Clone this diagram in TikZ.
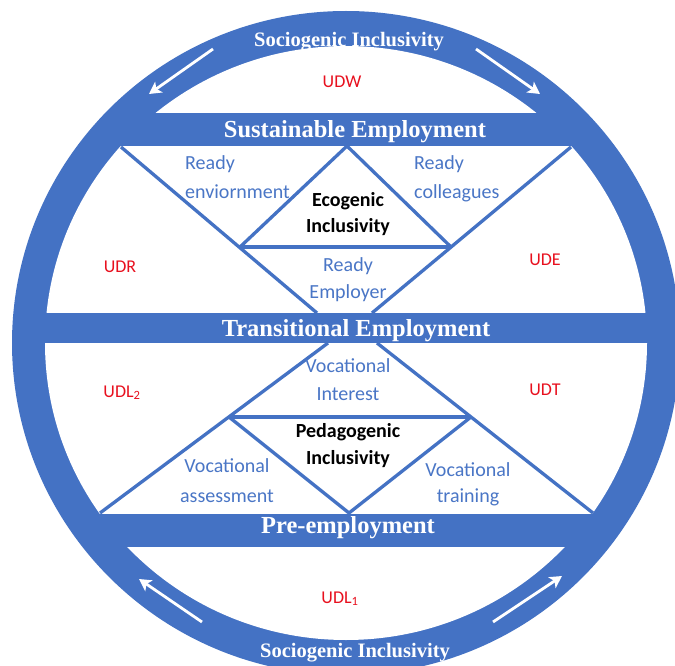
\documentclass[tikz,border=0pt]{standalone}
\usepackage{fontspec}
\setmainfont{Liberation Serif}
\newfontfamily\calib{Carlito}
\usetikzlibrary{arrows.meta}
\definecolor{ringblue}{HTML}{4472C4}
\definecolor{lblblue}{HTML}{4A76C6}
\definecolor{udred}{HTML}{E8101E}
\begin{document}
\begin{tikzpicture}[x=1pt,y=-1pt,
  bartext/.style={font=\fontsize{24.5}{26}\selectfont\bfseries, text=white, anchor=base, inner sep=0},
  ringtext/.style={font=\fontsize{20.5}{22}\selectfont\bfseries, text=white, anchor=base, inner sep=0},
  lbl/.style={font=\calib\fontsize{20}{24}\selectfont, text=lblblue, inner sep=0, anchor=base},
  lblL/.style={lbl, anchor=base west},
  core/.style={font=\calib\fontsize{20}{24}\selectfont\bfseries, text=black, inner sep=0, anchor=base},
  ud/.style={font=\calib\fontsize{18}{20}\selectfont, text=udred, inner sep=0, anchor=base},
  tri/.style={draw=ringblue, line width=3.3pt, line join=round},
  tribase/.style={draw=ringblue, line width=4.5pt},
  warrow/.style={draw=white, line width=2.8pt, -{Stealth[length=12pt,width=13pt,inset=3pt]}}
]
\clip (0,0) rectangle (675,666);
\useasboundingbox (0,0) rectangle (675,666);
\fill[white] (0,0) rectangle (675,666);
% ring
\fill[ringblue] (346,343) ellipse [x radius=334pt, y radius=332pt];
\fill[white] (346,343) ellipse [x radius=301pt, y radius=297pt];
% bars
\begin{scope}
  \clip (346,343) ellipse [x radius=302pt, y radius=298pt];
  \fill[ringblue] (0,113) rectangle (675,146);
  \fill[ringblue] (0,313) rectangle (675,343);
  \fill[ringblue] (0,514) rectangle (675,547);
\end{scope}
% upper V and ecogenic triangle
\coordinate (uvL) at (121,147);
\coordinate (uvLb) at (317,313);
\coordinate (uvR) at (571,147);
\coordinate (uvRb) at (372,313);
\coordinate (etA) at (347,146);
\coordinate (etL) at (240,247);
\coordinate (etR) at (451,247);
\draw[tri] (uvL) -- (uvLb);
\draw[tri] (uvR) -- (uvRb);
\draw[tri] (etL) -- (etA) -- (etR);
\draw[tribase] (etL) -- (etR);
% lower V and pedagogenic triangle
\coordinate (lvL) at (100,513);
\coordinate (lvLt) at (328,343);
\coordinate (lvR) at (593,513);
\coordinate (lvRt) at (377,343);
\coordinate (ptA) at (349,513);
\coordinate (ptL) at (229,417);
\coordinate (ptR) at (471,417);
\draw[tri] (lvL) -- (lvLt);
\draw[tri] (lvR) -- (lvRt);
\draw[tri] (ptL) -- (ptA) -- (ptR);
\draw[tribase] (ptL) -- (ptR);
% arrows on ring
\coordinate (a1s) at (213,49);  \coordinate (a1e) at (149,94);
\coordinate (a2s) at (476,49);  \coordinate (a2e) at (540,94);
\coordinate (a3s) at (202,622); \coordinate (a3e) at (139,579);
\coordinate (a4s) at (493,622); \coordinate (a4e) at (562,576);
\draw[warrow] (a1s) -- (a1e);
\draw[warrow] (a2s) -- (a2e);
\draw[warrow] (a3s) -- (a3e);
\draw[warrow] (a4s) -- (a4e);
% ring and bar texts
\node[ringtext] (soctop) at (349,47) {Sociogenic Inclusivity};
\node[ringtext] (socbot) at (355,657) {Sociogenic Inclusivity};
\node[bartext] (sust) at (355,138) {Sustainable Employment};
\node[bartext] (trans) at (356,336) {Transitional Employment};
\node[bartext] (pre) at (348,533) {Pre-employment};
% red labels
\node[ud] (udw) at (342,88) {UDW};
\node[ud] (udr) at (120,272) {UDR};
\node[ud] (ude) at (545,265) {UDE};
\node[ud] (udl2) at (122,397) {UDL\textsubscript{2}};
\node[ud] (udt) at (545,395) {UDT};
\node[ud] (udl1) at (340,603) {UDL\textsubscript{1}};
% upper labels
\node[lblL] (rea1) at (185,170) {Ready};
\node[lblL] (env) at (185,198) {enviornment};
\node[lblL] (rea2) at (414,170) {Ready};
\node[lblL] (col) at (414,198) {colleagues};
\node[core] (eco1) at (348,206) {Ecogenic};
\node[core] (eco2) at (348,233) {Inclusivity};
\node[lbl] (rea3) at (348,271) {Ready};
\node[lbl] (emp) at (348,298) {Employer};
% lower labels
\node[lbl] (voc1) at (348,372) {Vocational};
\node[lbl] (int) at (348,400) {Interest};
\node[core] (ped1) at (348,437) {Pedagogenic};
\node[core] (ped2) at (348,464) {Inclusivity};
\node[lbl] (voc2) at (227,472) {Vocational};
\node[lbl] (ass) at (227,502) {assessment};
\node[lbl] (voc3) at (468,476) {Vocational};
\node[lbl] (tra) at (468,502) {training};
\end{tikzpicture}
\end{document}
